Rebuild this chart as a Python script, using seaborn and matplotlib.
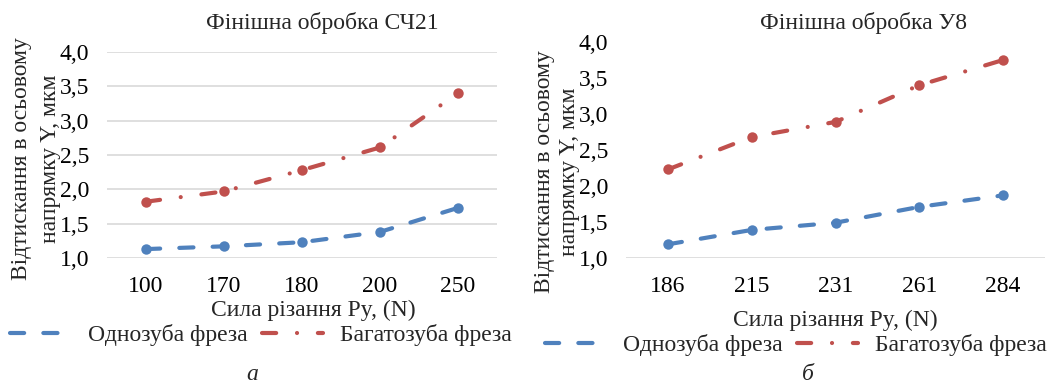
import matplotlib
matplotlib.use("Agg")
import matplotlib.pyplot as plt
from matplotlib.lines import Line2D
from matplotlib.ticker import FuncFormatter
import seaborn as sns
import pandas as pd

# ---- data ----
left_title = "Фінішна обробка СЧ21"
right_title = "Фінішна обробка У8"
left_cats = ["100", "170", "180", "200", "250"]
left_single = [1.13, 1.17, 1.23, 1.38, 1.73]
left_multi = [1.82, 1.97, 2.28, 2.61, 3.40]
right_cats = ["186", "215", "231", "261", "284"]
right_single = [1.19, 1.39, 1.49, 1.71, 1.87]
right_multi = [2.23, 2.68, 2.89, 3.40, 3.75]
series_names = ["Однозуба фреза", "Багатозуба фреза"]
y_ticks = [1.0, 1.5, 2.0, 2.5, 3.0, 3.5, 4.0]
x_label = "Сила різання Py, (N)"
y_label = "Відтискання в осьовому\nнапрямку Y, мкм"
captions = ["а", "б"]

sns.set_theme(style="white")
plt.rcParams["font.family"] = ["Liberation Serif", "DejaVu Serif"]
plt.rcParams["lines.dash_capstyle"] = "round"

BLUE = "#4F81BD"
RED = "#C0504D"
GRID = "#D9D9D9"
LW = 3.0
DASH_BLUE = (3.4, 4.6)
DASH_RED = (3.4, 5.0, 0.01, 5.0)
FS = 17

W, H = 1062, 383
fig = plt.figure(figsize=(W / 100, H / 100), dpi=100)
axL = fig.add_axes([107 / W, 1 - 258 / H, 390 / W, 206 / H])
axR = fig.add_axes([626 / W, 1 - 258 / H, 419 / W, 216 / H])


def draw(ax, cats, s1, s2, full_grid):
    df = pd.DataFrame({
        "x": list(cats) * 2,
        "y": list(s1) + list(s2),
        "series": [series_names[0]] * len(cats) + [series_names[1]] * len(cats),
    })
    sns.lineplot(data=df, x="x", y="y", hue="series", style="series",
                 palette=[BLUE, RED], dashes=[DASH_BLUE, DASH_RED],
                 markers=["o", "o"], markersize=7.5, markeredgewidth=0,
                 linewidth=LW, sort=False, legend=False, ax=ax)
    for ln in ax.get_lines():
        ln.set_clip_on(False)
        ln.set_zorder(3)
        ln.set_dash_capstyle("round")
    ax.set_xlim(-0.5, len(cats) - 0.5)
    ax.set_ylim(1.0, 4.0)
    ax.set_yticks(y_ticks)
    ax.yaxis.set_major_formatter(FuncFormatter(lambda v, p: f"{v:.1f}".replace(".", ",")))
    for s in ax.spines.values():
        s.set_visible(False)
    if full_grid:
        ax.grid(axis="y", color=GRID, linewidth=1.2)
    else:
        ax.grid(False)
        ax.axhline(1.0, color=GRID, linewidth=1.2, zorder=1)
    ax.set_axisbelow(True)
    ax.tick_params(axis="both", length=0, labelsize=FS, colors="#000000")
    ax.tick_params(axis="y", pad=13)
    ax.tick_params(axis="x", pad=13)
    ax.set_xlabel("")
    ax.set_ylabel("")


draw(axL, left_cats, left_single, left_multi, True)
draw(axR, right_cats, right_single, right_multi, False)

# titles
fig.text(322 / W, 1 - 23 / H, left_title, ha="center", va="center", fontsize=FS)
fig.text(863 / W, 1 - 23 / H, right_title, ha="center", va="center", fontsize=FS)

# axis labels
fig.text(36 / W, 1 - 159 / H, y_label, rotation=90, ha="center", va="center",
         multialignment="center", fontsize=FS, linespacing=1.45)
fig.text(557 / W, 1 - 172 / H, y_label, rotation=90, ha="center", va="center",
         multialignment="center", fontsize=FS, linespacing=1.2)
fig.text(313 / W, 1 - 310 / H, x_label, ha="center", va="center", fontsize=FS)
fig.text(835 / W, 1 - 320 / H, x_label, ha="center", va="center", fontsize=FS)

# legends
def handles():
    return [Line2D([], [], color=BLUE, lw=LW, dashes=DASH_BLUE, dash_capstyle="round"),
            Line2D([], [], color=RED, lw=LW, dashes=DASH_RED, dash_capstyle="round")]

for cx, cy in [(261, 335), (796, 345)]:
    fig.legend(handles=handles(), labels=series_names, loc="center",
               bbox_to_anchor=(cx / W, 1 - cy / H), ncol=2, frameon=False,
               fontsize=FS, handlelength=2.6, handletextpad=0.7,
               columnspacing=0.6, borderpad=0, borderaxespad=0)

# captions
fig.text(252 / W, 1 - 380 / H, captions[0], ha="center", va="baseline",
         fontsize=FS, style="italic")
fig.text(808 / W, 1 - 380 / H, captions[1], ha="center", va="baseline",
         fontsize=FS, style="italic")

fig.savefig("out.png", dpi=100, facecolor="white")
